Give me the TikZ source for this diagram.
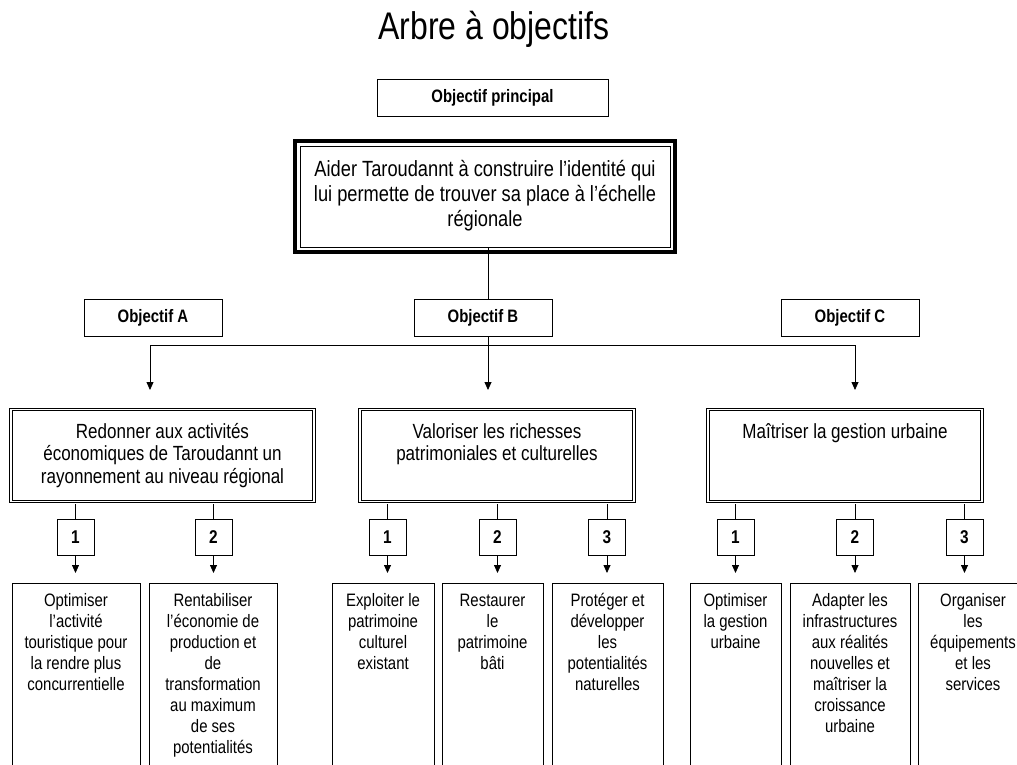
\documentclass[tikz,border=0pt]{standalone}
\usepackage{fontspec}
\setmainfont{Liberation Sans}[FakeStretch=0.83]
\usetikzlibrary{calc,arrows.meta,positioning}
\tikzset{
	labelbox/.style={
		draw, fill=white, line width=0.8pt,
		minimum width=138pt, minimum height=37pt, inner sep=0pt,
		font=\bfseries\fontsize{18}{21}\selectfont
	},
	numbox/.style={
		draw, fill=white, line width=0.8pt,
		minimum width=37pt, minimum height=36pt, inner sep=0pt,
		font=\bfseries\fontsize{18.5}{21}\selectfont
	},
	mainbox/.style={
		draw, line width=0.8pt, anchor=north, align=flush center,
		inner ysep=0pt, inner xsep=3pt, text width=364pt,
		text height=30pt, text depth=71pt,
		font=\fontsize{22}{25}\selectfont
	},
	goalbox/.style={
		draw, double, double distance=1.6pt, line width=0.9pt,
		anchor=north, align=flush center, inner ysep=0pt, inner xsep=3pt,
		text height=29pt, text depth=63pt,
		font=\fontsize{20.5}{22.5}\selectfont
	},
	leafbox/.style={
		draw, line width=0.8pt, anchor=north, align=flush center,
		inner ysep=0pt, inner xsep=3pt,
		text height=23pt, text depth=220pt,
		font=\fontsize{18}{21}\selectfont
	},
	link/.style={line width=0.8pt},
	arr/.style={line width=0.8pt, -{Triangle[width=7pt,length=8pt]}}
}

\begin{document}
\begin{tikzpicture}[x=1pt,y=-1pt]
  \useasboundingbox (0,0) rectangle (1017,765);
  \clip (0,0) rectangle (1017,765);

  \node[anchor=base, font=\fontsize{38.5}{44}\selectfont] (title) at (494,40) {Arbre à objectifs};

  \node[labelbox, minimum width=231pt, minimum height=37pt] (princ) at (492.5,97.5) {Objectif principal};
  \node[mainbox] (main) at (485,146)
    {Aider Taroudannt à construire l’identité qui\\
     lui permette de trouver sa place à l’échelle\\
     régionale};
  \draw[line width=4pt] ([shift={(-4.5pt,4.5pt)}]main.north west)
    rectangle ([shift={(4.5pt,-4.5pt)}]main.south east);

  % objectifs A, B, C
  \node[labelbox] (objA) at (153,317.5) {Objectif A};
  \node[labelbox] (objB) at (483,317.5) {Objectif B};
  \node[labelbox] (objC) at (850,317.5) {Objectif C};

  \node[goalbox, text width=297pt] (goalA) at (162.5,409)
    {Redonner aux activités\\
     économiques de Taroudannt un\\
     rayonnement au niveau régional};
  \node[goalbox, text width=268pt] (goalB) at (497,409)
    {Valoriser les richesses\\
     patrimoniales et culturelles};
  \node[goalbox, text width=268pt] (goalC) at (845,409)
    {Maîtriser la gestion urbaine};

  \coordinate (busA) at (150,345);
  \coordinate (busB) at (488,345);
  \coordinate (busC) at (855,345);

  \draw[link] (main.south -| busB) -- (objB.north -| busB);
  \draw[link] (busA) -- (busC);
  \draw[arr] (busA) -- ($(goalA.north -| busA)+(0,-19)$);
  \draw[arr] (objB.south -| busB) -- ($(goalB.north -| busB)+(0,-19)$);
  \draw[arr] (busC) -- ($(goalC.north -| busC)+(0,-19)$);

  % sous-objectifs
  \node[leafbox, text width=122pt] (leafa1) at (76,583)
    {Optimiser\\ l’activité\\ touristique pour\\ la rendre plus\\ concurrentielle};
  \node[leafbox, text width=122pt] (leafa2) at (213,583)
    {Rentabiliser\\ l’économie de\\ production et\\ de\\ transformation\\ au maximum\\ de ses\\ potentialités};
  \node[leafbox, text width=96pt] (leafb1) at (383,583)
    {Exploiter le\\ patrimoine\\ culturel\\ existant};
  \node[leafbox, text width=95pt] (leafb2) at (492.5,583)
    {Restaurer\\ le\\ patrimoine\\ bâti};
  \node[leafbox, text width=105pt] (leafb3) at (607.5,583)
    {Protéger et\\ développer\\ les\\ potentialités\\ naturelles};
  \node[leafbox, text width=85pt] (leafc1) at (735.5,583)
    {Optimiser\\ la gestion\\ urbaine};
  \node[leafbox, text width=114pt] (leafc2) at (850,583)
    {Adapter les\\ infrastructures\\ aux réalités\\ nouvelles et\\ maîtriser la\\ croissance\\ urbaine};
  \node[leafbox, text width=104pt] (leafc3) at (973,583)
    {Organiser\\ les\\ équipements\\ et les\\ services};

  \foreach \k/\x/\t in {a1/75.5/1, a2/213.5/2, b1/387.5/1, b2/497.5/2,
                        b3/607/3, c1/735.5/1, c2/855/2, c3/964.5/3}
    \node[numbox] (n\k) at (\x,537) {\t};

  \foreach \k/\p in {a1/goalA, a2/goalA, b1/goalB, b2/goalB,
                     b3/goalB, c1/goalC, c2/goalC, c3/goalC} {
    \draw[link] ($(\p.south -| n\k)+(0,2.5)$) -- (n\k.north);
    \draw[arr] (n\k.south) -- ($(leaf\k.north -| n\k)+(0,-10)$);
  }
\end{tikzpicture}
\end{document}
